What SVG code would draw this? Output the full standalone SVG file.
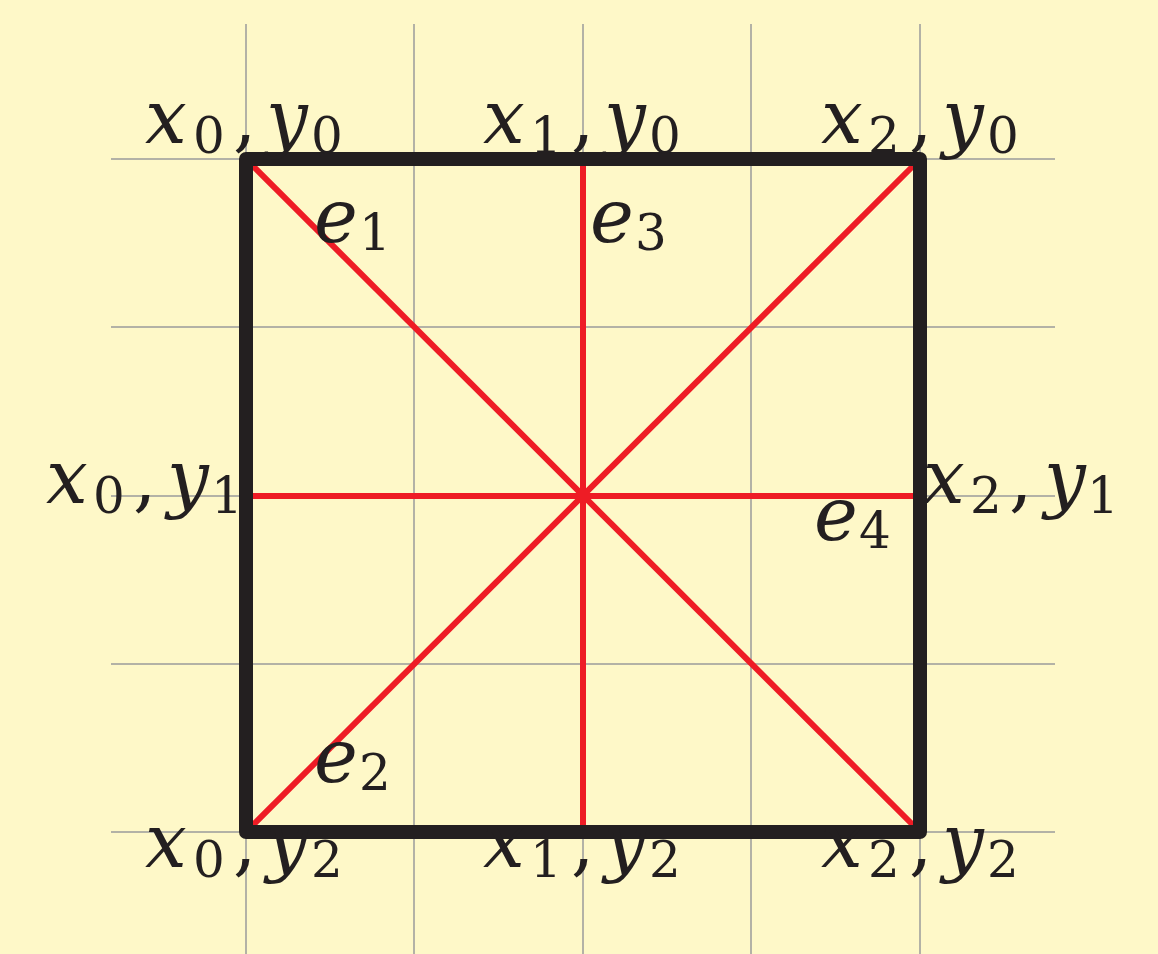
<svg xmlns="http://www.w3.org/2000/svg" width="1158" height="954" viewBox="0 0 1158 954">
<style>
.grid{stroke:#9a9a9a;stroke-width:1.5;fill:none}
.edge{stroke:#ee1c25;stroke-width:6;fill:none}
.box{stroke:#231f20;stroke-width:14;fill:none;stroke-linejoin:round}
.m{font-family:"DejaVu Serif","Liberation Serif",serif;font-style:italic;font-size:74px;fill:#231f20}
.s{font-family:"DejaVu Serif","Liberation Serif",serif;font-size:50px;fill:#231f20}
.c{font-family:"DejaVu Serif","Liberation Serif",serif;font-size:74px;fill:#231f20}
</style>
<rect width="1158" height="954" fill="#fef8c8"/>
<g id="grid" class="grid">
<path d="M246 24V954M414 24V954M583 24V954M751 24V954M920 24V954"/>
<path d="M111 159H1055M111 327H1055M111 496H1055M111 664H1055M111 832H1055"/>
</g>
<g id="connectors">
<line class="edge" x1="246" y1="159" x2="920" y2="832"/>
<line class="edge" x1="246" y1="832" x2="920" y2="159"/>
<line class="edge" x1="583" y1="159" x2="583" y2="832"/>
<line class="edge" x1="246" y1="496" x2="920" y2="496"/>
</g>
<g id="square"><rect class="box" x="246" y="159" width="674" height="673"/></g>
<g id="n-x0y0"><text class="m" x="145" y="143">x</text><text class="s" x="193" y="153">0</text><text class="c" x="233" y="143">,</text><text class="m" x="266" y="143">y</text><text class="s" x="311" y="153">0</text></g>
<g id="n-x1y0"><text class="m" x="483" y="143">x</text><text class="s" x="530" y="153">1</text><text class="c" x="571" y="143">,</text><text class="m" x="604" y="143">y</text><text class="s" x="649" y="153">0</text></g>
<g id="n-x2y0"><text class="m" x="821" y="143">x</text><text class="s" x="868" y="153">2</text><text class="c" x="909" y="143">,</text><text class="m" x="942" y="143">y</text><text class="s" x="987" y="153">0</text></g>
<g id="n-x0y1"><text class="m" x="46" y="503">x</text><text class="s" x="93" y="513">0</text><text class="c" x="133" y="503">,</text><text class="m" x="167" y="503">y</text><text class="s" x="211" y="513">1</text></g>
<g id="n-x2y1"><text class="m" x="923" y="503">x</text><text class="s" x="970" y="513">2</text><text class="c" x="1009" y="503">,</text><text class="m" x="1044" y="503">y</text><text class="s" x="1087" y="513">1</text></g>
<g id="n-x0y2"><text class="m" x="145" y="867">x</text><text class="s" x="193" y="877">0</text><text class="c" x="233" y="867">,</text><text class="m" x="266" y="867">y</text><text class="s" x="311" y="877">2</text></g>
<g id="n-x1y2"><text class="m" x="483" y="867">x</text><text class="s" x="530" y="877">1</text><text class="c" x="571" y="867">,</text><text class="m" x="604" y="867">y</text><text class="s" x="649" y="877">2</text></g>
<g id="n-x2y2"><text class="m" x="821" y="867">x</text><text class="s" x="868" y="877">2</text><text class="c" x="909" y="867">,</text><text class="m" x="942" y="867">y</text><text class="s" x="987" y="877">2</text></g>
<g id="n-e1"><text class="m" x="314" y="242">e</text><text class="s" x="359" y="250">1</text></g>
<g id="n-e2"><text class="m" x="314" y="782">e</text><text class="s" x="359" y="790">2</text></g>
<g id="n-e3"><text class="m" x="590" y="242">e</text><text class="s" x="635" y="250">3</text></g>
<g id="n-e4"><text class="m" x="814" y="540">e</text><text class="s" x="859" y="548">4</text></g>
</svg>
